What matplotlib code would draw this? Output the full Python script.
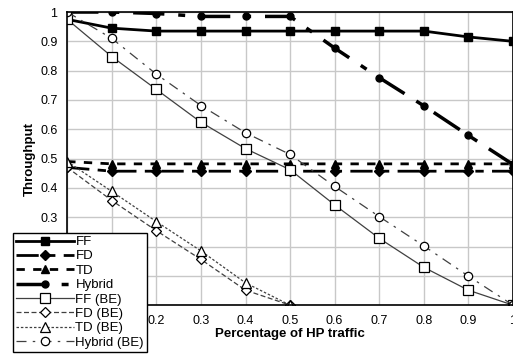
import numpy as np
import matplotlib
matplotlib.use('Agg')
import matplotlib.pyplot as plt

plt.rcParams['font.family'] = ['Liberation Sans', 'DejaVu Sans']

# ── Data ─────────────────────────────────────────────────────────────────────
x_full = [0.0, 0.1, 0.2, 0.3, 0.4, 0.5, 0.6, 0.7, 0.8, 0.9, 1.0]
x_half = [0.0, 0.1, 0.2, 0.3, 0.4, 0.5]

ff     = [0.975, 0.945, 0.935, 0.935, 0.935, 0.935, 0.935, 0.935, 0.935, 0.915, 0.90]
fd     = [0.47, 0.457, 0.457, 0.457, 0.457, 0.457, 0.457, 0.457, 0.457, 0.457, 0.457]
td     = [0.49, 0.482, 0.482, 0.482, 0.482, 0.482, 0.482, 0.482, 0.482, 0.482, 0.482]
hybrid = [1.0, 1.0, 0.995, 0.985, 0.985, 0.985, 0.877, 0.776, 0.68, 0.579, 0.48]

ff_be     = [0.975, 0.848, 0.736, 0.624, 0.534, 0.462, 0.342, 0.228, 0.129, 0.051, 0.0]
fd_be     = [0.47, 0.357, 0.254, 0.156, 0.051, 0.0]
td_be     = [0.49, 0.388, 0.285, 0.185, 0.076, 0.0]
hybrid_be = [1.0, 0.91, 0.788, 0.681, 0.588, 0.514, 0.405, 0.302, 0.202, 0.099, 0.0]

xticks = [0.0, 0.1, 0.2, 0.3, 0.4, 0.5, 0.6, 0.7, 0.8, 0.9, 1.0]
yticks = [0.0, 0.1, 0.2, 0.3, 0.4, 0.5, 0.6, 0.7, 0.8, 0.9, 1.0]

# ── Figure ────────────────────────────────────────────────────────────────────
fig = plt.figure(figsize=(5.13, 3.54), dpi=100)
ax = fig.add_axes([0.131, 0.138, 0.869, 0.828])

grey = '#404040'
ax.plot(x_full, ff, color='black', lw=2, ls='-', marker='s', ms=6, label='FF')
ax.plot(x_full, fd, color='black', lw=2, ls=(0, (8, 3, 3, 3)), marker='D', ms=5, label='FD')
ax.plot(x_full, td, color='black', lw=2, ls=(0, (3, 3)), marker='^', ms=6, label='TD')
ax.plot(x_full, hybrid, color='black', lw=2.5, ls=(0, (9, 4, 2, 4)), marker='o', ms=5, label='Hybrid')

ax.plot(x_full, ff_be, color=grey, lw=0.9, ls='-', marker='s', ms=7,
        mfc='white', mec='black', mew=0.9, label='FF (BE)')
ax.plot(x_half, fd_be, color=grey, lw=0.9, ls=(0, (4, 2)), marker='D', ms=5.5,
        mfc='white', mec='black', mew=0.9, label='FD (BE)')
ax.plot(x_half, td_be, color=grey, lw=0.9, ls=(0, (2, 1.5)), marker='^', ms=7,
        mfc='white', mec='black', mew=0.9, label='TD (BE)')
ax.plot(x_full, hybrid_be, color=grey, lw=0.9, ls=(0, (8, 5, 2, 5)), marker='o', ms=6,
        mfc='white', mec='black', mew=0.9, label='Hybrid (BE)')

ax.set_xlim(0, 1)
ax.set_ylim(0, 1)
ax.set_xticks(xticks)
ax.set_yticks(yticks)
ax.set_xticklabels([f'{v:g}' for v in xticks])
ax.set_yticklabels([f'{v:g}' for v in yticks])
ax.tick_params(length=0, labelsize=9, pad=7)
ax.grid(True, color='#c8c8c8', lw=1)
ax.set_axisbelow(True)
for s in ax.spines.values():
    s.set_color('black')
    s.set_linewidth(1.2)

ax.set_xlabel('Percentage of HP traffic', fontsize=9.5, fontweight='bold', labelpad=1)
ax.set_ylabel('Throughput', fontsize=9.5, fontweight='bold', labelpad=3)

leg = fig.legend(loc='lower left', bbox_to_anchor=(0.025, 0.006), fontsize=9.5,
                 frameon=True, fancybox=False, handlelength=4.4, handletextpad=0.1,
                 labelspacing=0.16, borderpad=0.25, borderaxespad=0)
leg.get_frame().set_edgecolor('black')
leg.get_frame().set_linewidth(1)
leg.get_frame().set_alpha(1)
leg.set_zorder(10)

fig.savefig('out.png', dpi=100)
